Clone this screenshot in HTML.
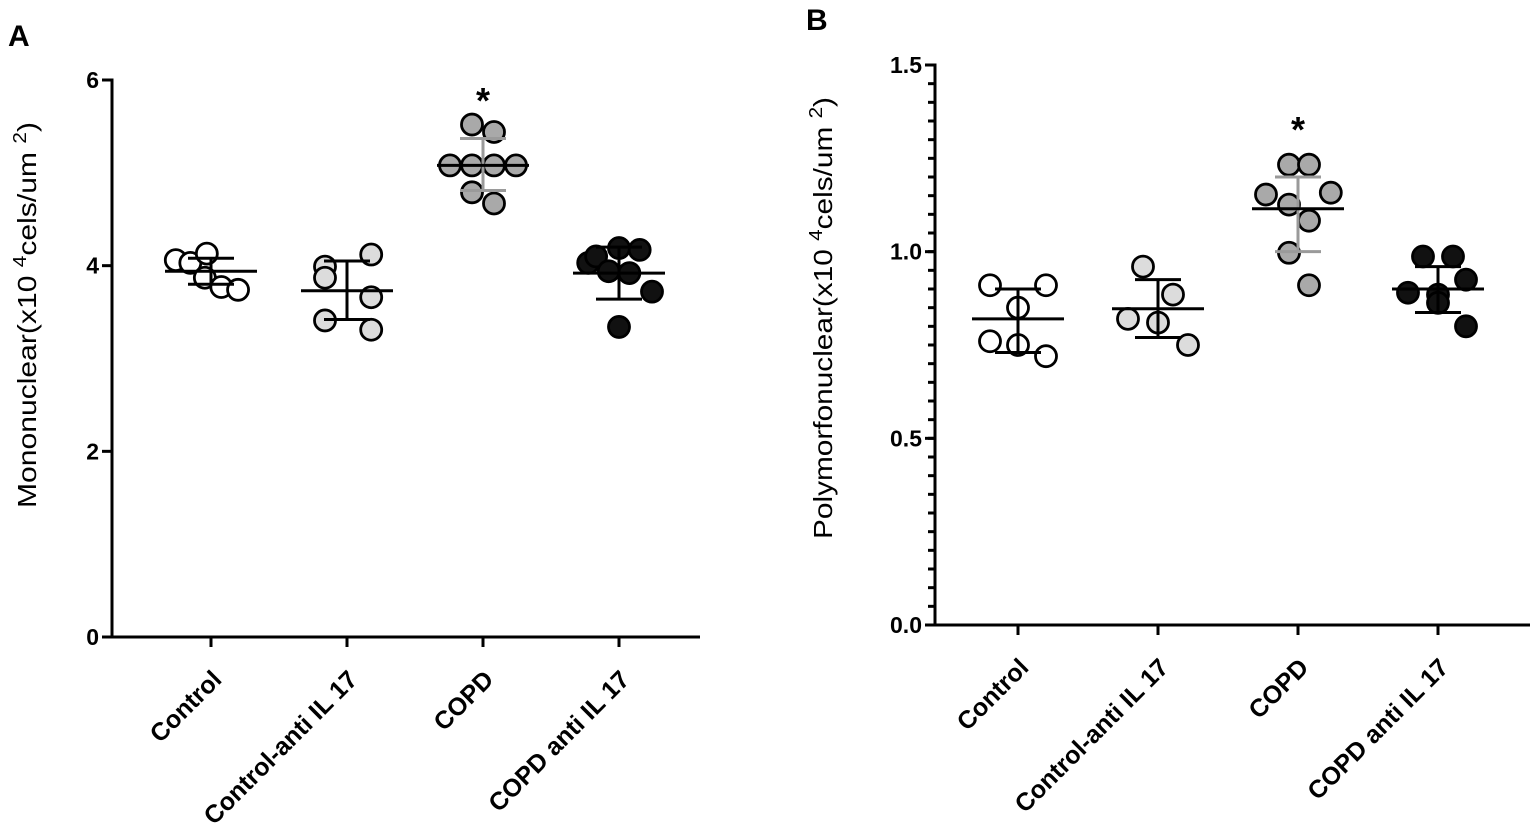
<!DOCTYPE html>
<html><head><meta charset="utf-8"><style>
body{margin:0;background:#fff;}
svg{display:block;font-family:"Liberation Sans",Arial,sans-serif;}
</style></head><body>
<svg id="fig" width="1535" height="832" viewBox="0 0 1535 832"></svg>
<script>
const categories = ["Control","Control-anti IL 17","COPD","COPD anti IL 17"];
const fills = ["#ffffff","#dcdcdc","#a9a9a9","#111111"];
const barColors = ["#000","#000","#9a9a9a","#000"];
// Panel A values
const aVals = [[4.06,4.03,4.13,3.87,3.77,3.74],[3.99,3.87,4.12,3.66,3.41,3.31],[5.52,5.44,5.08,5.08,5.08,5.08,4.79,4.67],[4.03,4.10,4.19,4.17,3.94,3.92,3.72,3.34]];
const aSlots = [[-1.6,-0.94,-0.19,-0.28,0.47,1.23],[-1,-1,1.1,1.1,-1,1.1],[-0.5,0.5,-1.5,-0.5,0.5,1.5,-0.5,0.5],[-1.4,-1.04,0,0.94,-0.47,0.47,1.5,0]];
const aMean = [3.94,3.73,5.08,3.92];
const aHi = [4.08,4.05,5.37,4.20];
const aLo = [3.80,3.42,4.81,3.64];
const aTicks = [0,2,4,6];
// Panel B values
const bVals = [[0.91,0.91,0.85,0.76,0.75,0.72],[0.96,0.885,0.82,0.81,0.75],[1.233,1.233,1.153,1.158,1.126,1.083,0.997,0.91],[0.987,0.987,0.925,0.89,0.885,0.863,0.80]];
const bSlots = [[-1.4,1.4,0,-1.4,0,1.4],[-0.75,0.75,-1.5,0,1.5],[-0.45,0.55,-1.6,1.64,-0.45,0.55,-0.45,0.55],[-0.75,0.75,1.4,-1.5,0,0,1.4]];
const bMean = [0.82,0.847,1.115,0.90];
const bHi = [0.90,0.925,1.20,0.96];
const bLo = [0.73,0.77,1.00,0.837];
const bTicks = [0,0.5,1.0,1.5];
const bTickLabels = ["0.0","0.5","1.0","1.5"];

const NS="http://www.w3.org/2000/svg";
const svg=document.getElementById('fig');
function mk(tag,attrs,parent){const e=document.createElementNS(NS,tag);for(const k in attrs)e.setAttribute(k,attrs[k]);(parent||svg).appendChild(e);return e;}

function panel(cfg){
  const g=mk('g',{});
  
  
  const y=v=>cfg.y0-(v-cfg.min)/(cfg.max-cfg.min)*(cfg.y0-cfg.yTop);
  const x=i=>cfg.x0+cfg.first+i*cfg.step;
  const ya=mk('line',{x1:cfg.x0,y1:cfg.yTop-1.5,x2:cfg.x0,y2:cfg.y0+1.5,stroke:'#000','stroke-width':3},g);
  
  
  const xa=mk('line',{x1:cfg.x0-1.5,y1:cfg.y0,x2:cfg.xEnd,y2:cfg.y0,stroke:'#000','stroke-width':3},g);
  
  
  if(cfg.minor){for(let v=cfg.min;v<=cfg.max+1e-9;v+=cfg.minor){mk('line',{x1:cfg.x0-7,y1:y(v),x2:cfg.x0,y2:y(v),stroke:'#000','stroke-width':3},g);}}
  cfg.ticks.forEach((t,i)=>{
    mk('line',{x1:cfg.x0-10,y1:y(t),x2:cfg.x0,y2:y(t),stroke:'#000','stroke-width':3},g);
    const tl=mk('text',{x:cfg.x0-13,y:y(t)+8,'text-anchor':'end','font-size':23,'font-weight':'bold'},g);
    tl.textContent=cfg.tickLabels[i];
    
    
  });
  const yt=mk('text',{x:0,y:0,'text-anchor':'middle','font-size':26,textLength:cfg.titleLen,lengthAdjust:'spacingAndGlyphs',transform:`translate(${cfg.titleX},${cfg.titleY}) rotate(-90)`},g);
  yt.innerHTML=cfg.title+'(x10 <tspan dy="-10" font-size="18">4</tspan><tspan dy="10">cels/um </tspan><tspan dy="-10" font-size="18">2</tspan><tspan dy="10">)</tspan>';
  
  
  categories.forEach((c,i)=>{
    mk('line',{x1:x(i),y1:cfg.y0,x2:x(i),y2:cfg.y0+10,stroke:'#000','stroke-width':3},g);
    const cl=mk('text',{x:0,y:0,'text-anchor':'end','font-size':25,'font-weight':'bold',transform:`translate(${x(i)+12},${cfg.y0+44}) rotate(-45)`},g);
    cl.textContent=c;
    
    
    const grp=mk('g',{},g);
    
    
    const bc=barColors[i];
    cfg.vals[i].forEach((v,j)=>{
      const p=mk('circle',{cx:x(i)+cfg.slots[i][j]*cfg.unit,cy:y(v),r:10.5,fill:fills[i],stroke:'#000','stroke-width':2.8},grp);
      
      
    });
    const eb=mk('g',{stroke:bc,'stroke-width':3},grp);
    
    
    mk('line',{x1:x(i),y1:y(cfg.hi[i]),x2:x(i),y2:y(cfg.lo[i])},eb);
    mk('line',{x1:x(i)-23,y1:y(cfg.hi[i]),x2:x(i)+23,y2:y(cfg.hi[i])},eb);
    mk('line',{x1:x(i)-23,y1:y(cfg.lo[i]),x2:x(i)+23,y2:y(cfg.lo[i])},eb);
    mk('line',{x1:x(i)-46,y1:y(cfg.mean[i]),x2:x(i)+46,y2:y(cfg.mean[i]),stroke:'#000'},eb);
  });
  const st=mk('text',{x:x(2),y:cfg.starY,'text-anchor':'middle','font-size':36,'font-weight':'bold'},g);
  st.textContent='*';
  
  
  const pl=mk('text',{x:cfg.letterX,y:cfg.letterY,'font-size':30,'font-weight':'bold'},g);
  pl.textContent=cfg.letter;
  
  
}
panel({name:'panel-a',x0:112,xEnd:700,y0:637,yTop:80,min:0,max:6,first:99,step:136,unit:22,ticks:aTicks,tickLabels:aTicks.map(String),
  vals:aVals,slots:aSlots,mean:aMean,hi:aHi,lo:aLo,title:'Mononuclear',titleX:36,titleY:315,titleLen:386,starY:113,letter:'A',letterX:8,letterY:46});
panel({name:'panel-b',x0:935,xEnd:1530,y0:625,yTop:65,min:0,max:1.5,minor:0.05,first:83,step:140,unit:20,ticks:bTicks,tickLabels:bTickLabels,
  vals:bVals,slots:bSlots,mean:bMean,hi:bHi,lo:bLo,title:'Polymorfonuclear',titleX:832,titleY:318,titleLen:442,starY:142,letter:'B',letterX:806,letterY:30});
</script>
</body></html>
